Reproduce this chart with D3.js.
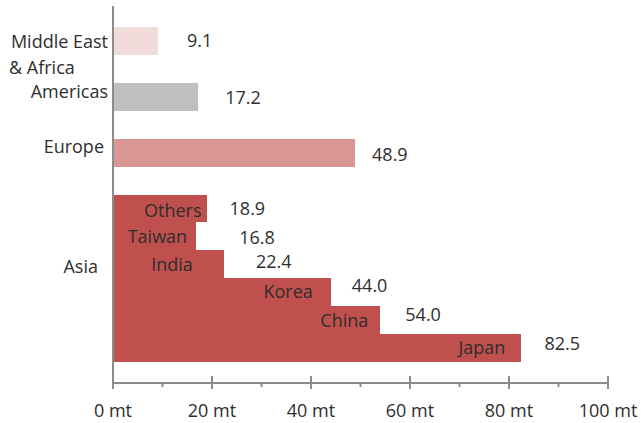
<!DOCTYPE html>
<html>
<head>
<meta charset="utf-8">
<script src="https://cdn.jsdelivr.net/npm/d3@7/dist/d3.min.js"></script>
<style>
  html, body { margin: 0; padding: 0; background: #fff; }
  svg text { font-family: "Open Sans", sans-serif; font-size: 18px; fill: #2e2e2e; }
</style>
</head>
<body>
<svg id="chart" width="641" height="423"></svg>
<script>
// Regional totals (million tonnes)
const regions = ["Middle East & Africa", "Americas", "Europe"];
const regionValues = [9.1, 17.2, 48.9];
const regionColors = ["#f2dcdb", "#bfbfbf", "#d99694"];

// Asia broken down by country (million tonnes)
const asiaLabel = "Asia";
const asiaCountries = ["Others", "Taiwan", "India", "Korea", "China", "Japan"];
const asiaValues = [18.9, 16.8, 22.4, 44.0, 54.0, 82.5];
const asiaColor = "#c0504d";

// X axis
const xTicks = [0, 20, 40, 60, 80, 100];
const xMinorTicks = [10, 30, 50, 70, 90];
const unit = " mt";

// Label nudges [dx, dy] in px relative to bar end / bar centre
const regionValueNudge = [[29, 6.5], [27, 7], [17, 8]];
const asiaValueNudge = [[23, 7], [43, 8], [32, 4], [21, 0], [25, 1], [23, 2]];
const asiaNameNudge = [[-5, 9], [-9, 7], [-31, 7], [-18, 6], [-12, 7], [-16, 6]];

const svg = d3.select("#chart");
const margin = { left: 113, right: 33, top: 6, bottom: 40 };
const W = 641, H = 423;
const axisY = H - margin.bottom;

const x = d3.scaleLinear().domain([0, 100]).range([margin.left, W - margin.right]);

// Row layout: each region takes a row followed by an empty row; Asia countries stack below
const rowIds = [];
regions.forEach((r, i) => { rowIds.push("r" + i); rowIds.push("gap" + i); });
asiaCountries.forEach((c, i) => rowIds.push("a" + i));

const y = d3.scaleBand().domain(rowIds).range([margin.top, axisY]).paddingInner(0).paddingOuter(0.75);
const bw = y.bandwidth();

const g = svg.append("g");

// Region bars
regions.forEach((r, i) => {
  const id = "r" + i;
  g.append("rect")
    .attr("x", x(0)).attr("y", Math.round(y(id)))
    .attr("width", x(regionValues[i]) - x(0)).attr("height", Math.round(bw))
    .attr("fill", regionColors[i]);
  g.append("text")
    .attr("x", x(regionValues[i]) + regionValueNudge[i][0])
    .attr("y", y(id) + bw / 2 + regionValueNudge[i][1])
    .text(regionValues[i].toFixed(1));
});

// Asia country bars (snapped to whole pixels so stacked rows meet without seams)
asiaCountries.forEach((c, i) => {
  const id = "a" + i;
  const top = Math.round(y(id));
  const bottom = Math.round(y(id) + bw);
  g.append("rect")
    .attr("x", x(0)).attr("y", top)
    .attr("width", x(asiaValues[i]) - x(0)).attr("height", bottom - top)
    .attr("fill", asiaColor)
    .attr("shape-rendering", "crispEdges");
  g.append("text")
    .attr("text-anchor", "end")
    .attr("x", x(asiaValues[i]) + asiaNameNudge[i][0])
    .attr("y", y(id) + bw / 2 + asiaNameNudge[i][1])
    .text(c);
  g.append("text")
    .attr("x", x(asiaValues[i]) + asiaValueNudge[i][0])
    .attr("y", y(id) + bw / 2 + asiaValueNudge[i][1])
    .text(asiaValues[i].toFixed(1));
});

// Category labels on the left
const labelRight = margin.left - 5;
// Middle East & Africa wraps onto two lines
const meCenter = y("r0") + bw / 2;
const meLines = regions[0].split(" & ");
g.append("text").attr("text-anchor", "end").attr("x", labelRight)
  .attr("y", meCenter + 7).text(meLines[0]);
g.append("text").attr("x", 9)
  .attr("y", meCenter + 33).text("& " + meLines[1]);
g.append("text").attr("text-anchor", "end").attr("x", labelRight)
  .attr("y", y("r1") + bw / 2 + 1).text(regions[1]);
g.append("text").attr("text-anchor", "end").attr("x", labelRight - 4)
  .attr("y", y("r2") + bw / 2).text(regions[2]);
const asiaMid = (y("a0") + y("a" + (asiaCountries.length - 1)) + bw) / 2;
g.append("text").attr("text-anchor", "end").attr("x", labelRight - 10)
  .attr("y", asiaMid - 5).text(asiaLabel);

// Axes
const axisColor = "#8c8c8c";
g.append("line")
  .attr("x1", x(0)).attr("x2", x(0))
  .attr("y1", margin.top).attr("y2", axisY + 5)
  .attr("stroke", axisColor).attr("stroke-width", 2);
g.append("line")
  .attr("x1", x(0)).attr("x2", x(100))
  .attr("y1", axisY).attr("y2", axisY)
  .attr("stroke", axisColor).attr("stroke-width", 2);
g.selectAll(".major").data(xTicks).join("line")
  .attr("x1", d => x(d)).attr("x2", d => x(d))
  .attr("y1", axisY - 7).attr("y2", axisY + 6)
  .attr("stroke", axisColor).attr("stroke-width", 2);
g.selectAll(".minor").data(xMinorTicks).join("line")
  .attr("x1", d => x(d)).attr("x2", d => x(d))
  .attr("y1", axisY).attr("y2", axisY + 4)
  .attr("stroke", axisColor).attr("stroke-width", 2);
g.selectAll(".tickLabel").data(xTicks).join("text")
  .attr("text-anchor", "middle")
  .attr("x", d => x(d)).attr("y", axisY + 34)
  .text(d => d + unit);
</script>
</body>
</html>
